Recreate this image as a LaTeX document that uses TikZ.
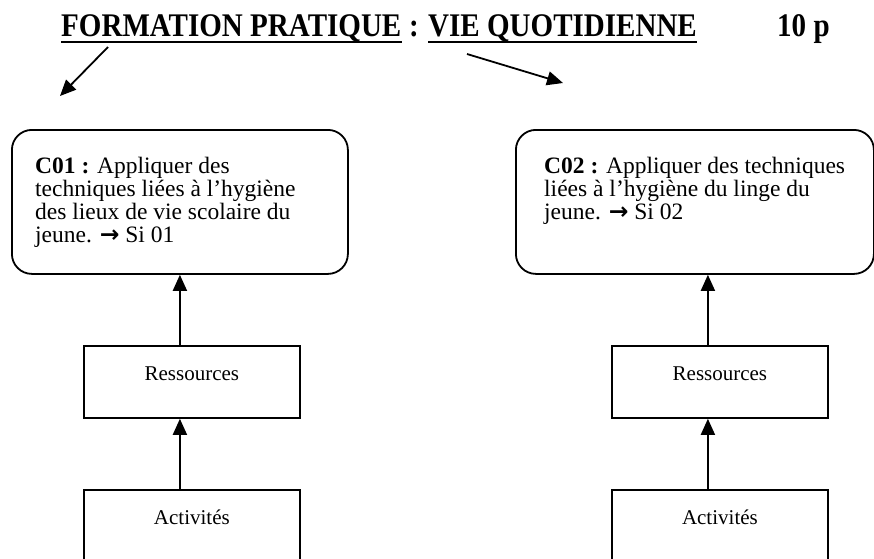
\documentclass[tikz,border=0pt]{standalone}
\usepackage{fontspec}
\setmainfont{Liberation Serif}
\newfontfamily\dejavu{DejaVu Sans}
\usetikzlibrary{arrows.meta}
\begin{document}
\begin{tikzpicture}[x=1pt,y=-1pt,
  cbox/.style={draw, line width=1.8pt, rounded corners=20pt, inner sep=0pt, anchor=north west},
  rbox/.style={draw, line width=1.8pt, inner sep=0pt, anchor=north west, minimum width=216pt, minimum height=72pt,
     text height=16pt, text depth=18pt, font=\fontsize{21}{24}\selectfont},
  ctext/.style={anchor=base west, align=left, inner sep=0pt, font=\fontsize{23.5}{23.3}\selectfont},
  conn/.style={line width=1.8pt, -{Triangle[length=16pt,width=14pt]}},
  ttl/.style={anchor=base west, inner sep=0pt, font=\fontsize{33}{36}\selectfont\bfseries},
  uline/.style={line width=2.5pt}]
\useasboundingbox (0,0) rectangle (874,558);
\fill[white] (0,0) rectangle (874,558);
% title
\node[ttl] (t1) at (61,36) {\scalebox{0.88}[1]{FORMATION PRATIQUE}};
\node[ttl] (tc) at (409,36) {\scalebox{0.88}[1]{:}};
\node[ttl] (t2) at (428,36) {\scalebox{0.88}[1]{VIE QUOTIDIENNE}};
\node[ttl] (t3) at (777,36) {\scalebox{0.88}[1]{10 p}};
\draw[uline] ([yshift=-6pt]t1.base west) -- ([yshift=-6pt]t1.base east);
\draw[uline] ([yshift=-6pt]t2.base west) -- ([yshift=-6pt]t2.base east);
\coordinate (s1) at (108,47);
\coordinate (e1) at (60,96);
\coordinate (s2) at (467,54);
\coordinate (e2) at (563,83);
\draw[conn] (s1) -- (e1);
\draw[conn] (s2) -- (e2);
% competence boxes
\node[cbox, minimum width=336pt, minimum height=144pt] (c1) at (11,129) {};
\node[cbox, minimum width=358pt, minimum height=144pt] (c2) at (515,129) {};
\node[ctext] (c1t) at (35,242.9) {\textbf{C01 :} Appliquer des\\techniques liées à l’hygiène\\des lieux de vie scolaire du\\jeune. {\dejavu\bfseries →} Si 01};
\node[ctext] (c2t) at (544,219.6) {\textbf{C02 :} Appliquer des techniques\\liées à l’hygiène du linge du\\jeune. {\dejavu\bfseries →} Si 02};
% resources / activities
\node[rbox] (r1) at (83,345) {Ressources};
\node[rbox] (a1) at (83,489) {Activités};
\node[rbox] (r2) at (611,345) {Ressources};
\node[rbox] (a2) at (611,489) {Activités};
\draw[conn] ([xshift=-12pt]a1.north) -- ([xshift=-12pt]r1.south);
\draw[conn] ([xshift=-12pt]r1.north) -- ([xshift=-12pt]r1.north |- c1.south);
\draw[conn] ([xshift=-12pt]a2.north) -- ([xshift=-12pt]r2.south);
\draw[conn] ([xshift=-12pt]r2.north) -- ([xshift=-12pt]r2.north |- c2.south);
\end{tikzpicture}
\end{document}
